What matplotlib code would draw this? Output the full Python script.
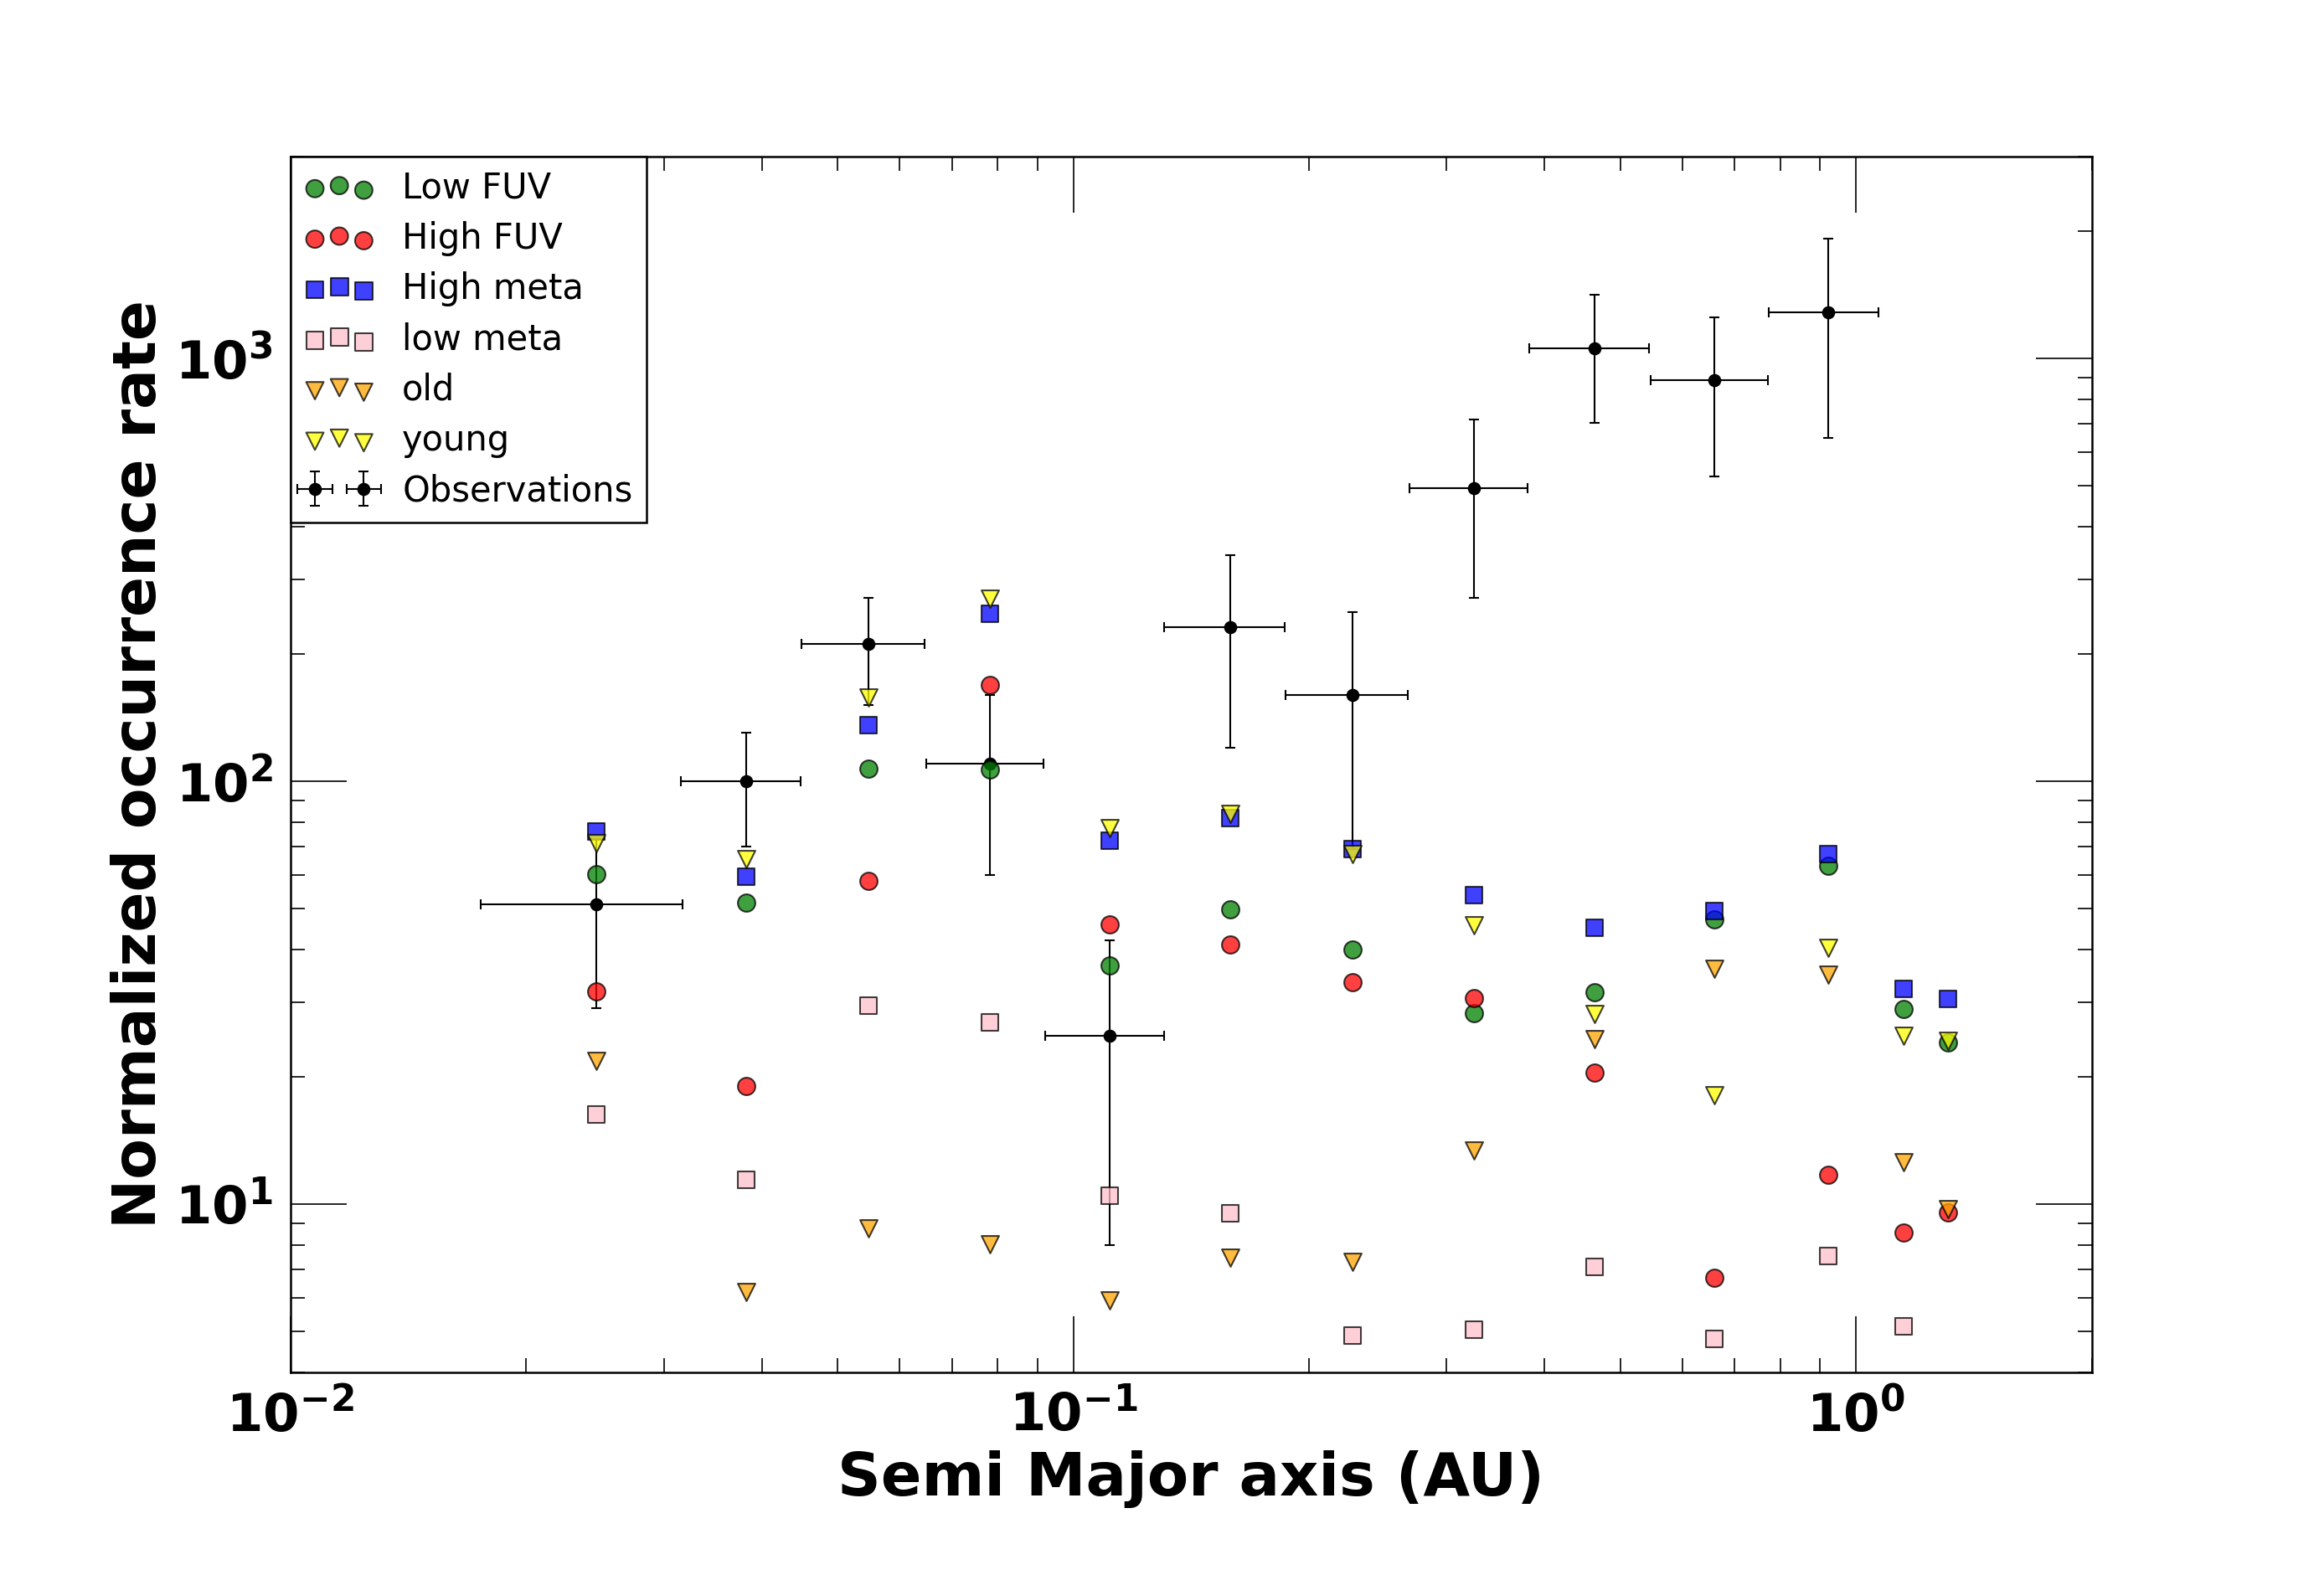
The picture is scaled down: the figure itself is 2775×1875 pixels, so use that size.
import numpy as np
import matplotlib
matplotlib.use("Agg")
import matplotlib.pyplot as plt
from matplotlib.ticker import FuncFormatter, NullFormatter, LogLocator

# Bin centres (AU) of the model points
model_x = [0.0246, 0.0382, 0.0548, 0.0783, 0.1113, 0.1586, 0.2272, 0.3248,
           0.4634, 0.6590, 0.921, 1.149, 1.311]

# Normalized occurrence rates of each model population
low_fuv = [60.3, 51.6, 106.8, 106.4, 36.6, 49.8, 40.0, 28.2, 31.7, 47.0, 63.1, 28.9, 24.1]
high_fuv = [31.8, 19.0, 58.1, 168.8, 45.8, 41.0, 33.5, 30.6, 20.4, 6.68, 11.7, 8.55, 9.56]
high_meta = [75.8, 59.4, 135.7, 248.8, 72.2, 81.6, 69.1, 53.8, 44.9, 49.2, 67.1, 32.3, 30.5]
low_meta = [16.3, 11.4, 29.4, 26.9, 10.45, 9.5, 4.88, 5.04, 7.1, 4.79, 7.52, 5.13, np.nan]
old = [21.8, 6.18, 8.74, 8.04, 5.91, 7.47, 7.3, 13.4, 24.5, 36.0, 34.9, 12.55, 9.7]
young = [71.1, 65.2, 157.3, 269.5, 77.5, 83.7, 67.3, 45.5, 28.1, 18.1, 40.3, 25.0, 24.3]

# Observations with errors
obs_x = [0.0246, 0.0382, 0.0548, 0.0783, 0.1113, 0.1586, 0.2272, 0.3248, 0.4634, 0.6590, 0.921]
obs_xerr = [0.0071, 0.0067, 0.0098, 0.0134, 0.0192, 0.0278, 0.0404, 0.0561, 0.0807, 0.1126, 0.148]
obs_y = [51, 100, 211, 110, 25, 231, 160, 493, 1056, 887, 1282]
obs_yerr = [22, 30, 60, 50, 17, 111, 91, 222, 352, 362, 635]

plt.rcParams['mathtext.fontset'] = 'dejavusans'

fig = plt.figure(figsize=(18.5, 12.5), dpi=150)
ax = fig.add_axes([0.125, 0.126, 0.775, 0.7745])

obs = ax.errorbar(obs_x, obs_y, xerr=obs_xerr, yerr=obs_yerr, fmt='o', color='k',
                  ms=6.5, lw=1, elinewidth=1, capsize=3, zorder=1, label='Observations')

series = [
    (low_fuv, 'o', 'green', 'Low FUV'),
    (high_fuv, 'o', 'red', 'High FUV'),
    (high_meta, 's', 'blue', 'High meta'),
    (low_meta, 's', 'pink', 'low meta'),
    (old, 'v', 'orange', 'old'),
    (young, 'v', 'yellow', 'young'),
]
handles = []
for vals, mk, col, lab in series:
    h = ax.scatter(model_x, vals, s=100, marker=mk, c=col, alpha=0.75,
                   edgecolors='k', linewidths=1, label=lab, zorder=2)
    handles.append(h)
handles.append(obs)

ax.set_xscale('log')
ax.set_yscale('log')
ax.set_xlim(0.01, 2.0)
ax.set_ylim(4, 3000)

fmt = FuncFormatter(lambda v, p: r'$\mathbf{10^{%d}}$' % int(round(np.log10(v))))
ax.xaxis.set_major_formatter(fmt)
ax.yaxis.set_major_formatter(fmt)
ax.xaxis.set_minor_formatter(NullFormatter())
ax.yaxis.set_minor_formatter(NullFormatter())
ax.yaxis.set_major_locator(LogLocator(base=10, numticks=10))

ax.tick_params(which='major', direction='in', length=32, width=0.8,
               top=True, right=True, labelsize=30, pad=10)
ax.tick_params(which='minor', direction='in', length=8, width=0.8,
               top=True, right=True)
for sp in ax.spines.values():
    sp.set_linewidth(1.2)

ax.set_xlabel('Semi Major axis (AU)', fontsize=34.5, fontweight='bold')
ax.set_ylabel('Normalized occurrence rate', fontsize=34, fontweight='bold')

leg = ax.legend(handles, [h.get_label() for h in handles], loc='upper left',
                borderaxespad=0, scatterpoints=3, numpoints=2, fancybox=False,
                edgecolor='k', framealpha=1, fontsize=20, labelspacing=0.44)
leg.get_frame().set_linewidth(1.2)

fig.savefig('out.png', dpi=150, facecolor='white')
